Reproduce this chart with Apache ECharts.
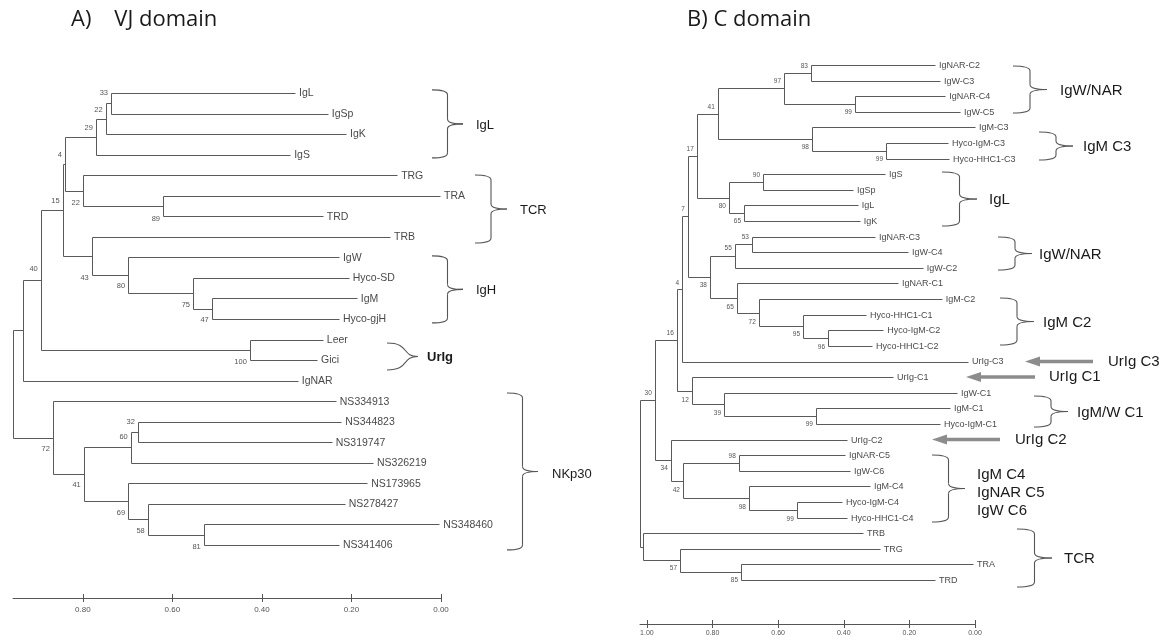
<!DOCTYPE html>
<html>
<head>
<meta charset="utf-8">
<script src="https://cdn.jsdelivr.net/npm/echarts@6/dist/echarts.min.js"></script>
<style>
  html, body { margin: 0; padding: 0; background: #fff; }
  #chart { width: 1168px; height: 641px; }
</style>
</head>
<body>
<div id="chart"></div>
<script>
// ---- A) VJ domain ----
const leavesA = ['IgL', 'IgSp', 'IgK', 'IgS', 'TRG', 'TRA', 'TRD', 'TRB', 'IgW', 'Hyco-SD', 'IgM', 'Hyco-gjH',
  'Leer', 'Gici', 'IgNAR', 'NS334913', 'NS344823', 'NS319747', 'NS326219', 'NS173965', 'NS278427', 'NS348460', 'NS341406']
const tipsA = [0.326, 0.253, 0.212, 0.337, 0.098, 0.002, 0.264, 0.114, 0.228, 0.206, 0.188, 0.228,
  0.264, 0.277, 0.320, 0.235, 0.223, 0.244, 0.152, 0.165, 0.215, 0.004, 0.228]
// [id, distance, bootstrap, children] (children before parents)
const nodesA = [
  ['n33', 0.737, 33, ['IgL', 'IgSp']],
  ['n22a', 0.749, 22, ['n33', 'IgK']],
  ['n29', 0.771, 29, ['n22a', 'IgS']],
  ['n89', 0.621, 89, ['TRA', 'TRD']],
  ['n22b', 0.800, 22, ['TRG', 'n89']],
  ['n4', 0.840, 4, ['n29', 'n22b']],
  ['n47', 0.512, 47, ['IgM', 'Hyco-gjH']],
  ['n75', 0.554, 75, ['Hyco-SD', 'n47']],
  ['n80', 0.699, 80, ['IgW', 'n75']],
  ['n43', 0.780, 43, ['TRB', 'n80']],
  ['n15', 0.845, 15, ['n4', 'n43']],
  ['n100', 0.427, 100, ['Leer', 'Gici']],
  ['n40', 0.894, 40, ['n15', 'n100']],
  ['nU', 0.934, null, ['n40', 'IgNAR']],
  ['n32', 0.677, 32, ['NS344823', 'NS319747']],
  ['n60', 0.693, 60, ['n32', 'NS326219']],
  ['n81', 0.530, 81, ['NS348460', 'NS341406']],
  ['n58', 0.655, 58, ['NS278427', 'n81']],
  ['n69', 0.699, 69, ['NS173965', 'n58']],
  ['n41', 0.798, 41, ['n60', 'n69']],
  ['n72', 0.867, 72, ['NS334913', 'n41']],
  ['root', 0.956, null, ['nU', 'n72']]
]
const ticksA = [0, 0.2, 0.4, 0.6, 0.8]
// [label, from leaf, to leaf]
const groupsA = [['IgL', -0.15, 3.16], ['TCR', 3.99, 7.3], ['IgH', 7.93, 11.19], ['UrIg', 12.17, 13.48], ['NKp30', 14.6, 22.24]]

// ---- B) C domain ----
const leavesB = ['IgNAR-C2', 'IgW-C3', 'IgNAR-C4', 'IgW-C5', 'IgM-C3', 'Hyco-IgM-C3', 'Hyco-HHC1-C3',
  'IgS', 'IgSp', 'IgL', 'IgK', 'IgNAR-C3', 'IgW-C4', 'IgW-C2', 'IgNAR-C1', 'IgM-C2', 'Hyco-HHC1-C1',
  'Hyco-IgM-C2', 'Hyco-HHC1-C2', 'UrIg-C3', 'UrIg-C1', 'IgW-C1', 'IgM-C1', 'Hyco-IgM-C1', 'UrIg-C2',
  'IgNAR-C5', 'IgW-C6', 'IgM-C4', 'Hyco-IgM-C4', 'Hyco-HHC1-C4', 'TRB', 'TRG', 'TRA', 'TRD']
const tipsB = [0.122, 0.107, 0.091, 0.046, 0.000, 0.082, 0.079,
  0.274, 0.372, 0.357, 0.351, 0.305, 0.204, 0.159, 0.235, 0.101, 0.332,
  0.280, 0.314, 0.021, 0.250, 0.055, 0.076, 0.107, 0.390,
  0.396, 0.381, 0.320, 0.405, 0.390, 0.341, 0.290, 0.006, 0.122]
const nodesB = [
  ['n83', 0.500, 83, ['IgNAR-C2', 'IgW-C3']],
  ['n99a', 0.366, 99, ['IgNAR-C4', 'IgW-C5']],
  ['n97', 0.582, 97, ['n83', 'n99a']],
  ['n99b', 0.271, 99, ['Hyco-IgM-C3', 'Hyco-HHC1-C3']],
  ['n98', 0.497, 98, ['IgM-C3', 'n99b']],
  ['n41', 0.784, 41, ['n97', 'n98']],
  ['n90', 0.646, 90, ['IgS', 'IgSp']],
  ['n65', 0.704, 65, ['IgL', 'IgK']],
  ['n80', 0.750, 80, ['n90', 'n65']],
  ['n17', 0.848, 17, ['n41', 'n80']],
  ['n53', 0.680, 53, ['IgNAR-C3', 'IgW-C4']],
  ['n55', 0.732, 55, ['n53', 'IgW-C2']],
  ['n96', 0.448, 96, ['Hyco-IgM-C2', 'Hyco-HHC1-C2']],
  ['n95', 0.524, 95, ['Hyco-HHC1-C1', 'n96']],
  ['n72', 0.659, 72, ['IgM-C2', 'n95']],
  ['n65b', 0.726, 65, ['IgNAR-C1', 'n72']],
  ['n38', 0.808, 38, ['n55', 'n65b']],
  ['n7', 0.875, 7, ['n17', 'n38']],
  ['n4', 0.893, 4, ['n7', 'UrIg-C3']],
  ['n99c', 0.485, 99, ['IgM-C1', 'Hyco-IgM-C1']],
  ['n39', 0.765, 39, ['IgW-C1', 'n99c']],
  ['n12', 0.863, 12, ['UrIg-C1', 'n39']],
  ['n16', 0.909, 16, ['n4', 'n12']],
  ['n98c', 0.720, 98, ['IgNAR-C5', 'IgW-C6']],
  ['n99e', 0.543, 99, ['Hyco-IgM-C4', 'Hyco-HHC1-C4']],
  ['n98d', 0.689, 98, ['IgM-C4', 'n99e']],
  ['n42', 0.890, 42, ['n98c', 'n98d']],
  ['n34', 0.927, 34, ['UrIg-C2', 'n42']],
  ['n30', 0.976, 30, ['n16', 'n34']],
  ['n85', 0.713, 85, ['TRA', 'TRD']],
  ['n57', 0.899, 57, ['TRG', 'n85']],
  ['nT', 1.012, null, ['TRB', 'n57']],
  ['root', 1.021, null, ['n30', 'nT']]
]
const ticksB = [0, 0.2, 0.4, 0.6, 0.8, 1.0]
const groupsB = [['IgW/NAR', 0.06, 3.08], ['IgM C3', 4.29, 6.09], ['IgL', 6.86, 10.32], ['IgW/NAR', 11.02, 13.14],
  ['IgM C2', 14.93, 17.94], ['IgM/W C1', 21.21, 23.2], ['IgM C4\nIgNAR C5\nIgW C6', 24.99, 29.28], ['TCR', 29.73, 33.45]]
// [label, leaf index]
const arrowsB = [['UrIg C3', 19], ['UrIg C1', 20], ['UrIg C2', 24]]

// ---- styling (pixel offsets from the 0.00 position) ----
const bootDyA = [-10, -9, -9, 13, 12, -9, 11, 12, 11, 22, -9, 12, -11, 0, -10, -10, 12, 12, 12, 11, 11, 0]
const bootDyB = [-7, 8, -7, 8, 8, -7, -7, 8, 9, -7, -7, -8, 9, 8, 9, 9, 8, -7, -6, 8, 9, 9, -7, -7, 9, 9, 10, 8, -7, 8, 8, 0, 0]
// [brace left, brace tip, label x, label dy, curly]
const braceStyleA = [[-9, 22, 35, 2], [34, 66, 79, 1], [-9, 22, 35, 1], [-54, -23, -14, 1, true], [66, 97, 111, 3]]
const braceStyleB = [[38, 72, 85, 1], [64, 98, 108, 1], [-33, 2, 14, 1], [23, 57, 64, 1], [25, 59, 68, 1],
  [59, 93, 102, 1], [-43, -10, 2, 4], [42, 77, 89, 1]]
// [tip, tail, label x]
const arrowStyleB = [[50, 118, 133], [-9, 60, 74], [-43, 25, 40]]

const LINE = '#5a5a5a'
const TXT = '#4a4a4a'
const FONT = 'Liberation Sans, Arial, sans-serif'

function layoutTree(leaves, tips, nodes) {
  const pos = {}
  leaves.forEach((n, i) => { pos[n] = { x: tips[i], y: i } })
  const segs = []
  const boots = []
  nodes.forEach(([id, d, b, kids], k) => {
    const ys = kids.map(c => pos[c].y)
    const y = (ys[0] + ys[ys.length - 1]) / 2
    pos[id] = { x: d, y }
    segs.push([d, ys[0], d, ys[ys.length - 1]])
    kids.forEach(c => segs.push([d, pos[c].y, pos[c].x, pos[c].y]))
    if (b != null) boots.push([d, y, b, k])
  })
  return { segs, boots }
}

const treeA = layoutTree(leavesA, tipsA, nodesA)
const treeB = layoutTree(leavesB, tipsB, nodesB)

const crisp = v => Math.round(v) + 0.5

function branchSeries(idx, segs) {
  return {
    type: 'custom', xAxisIndex: idx * 2, yAxisIndex: idx, clip: false,
    encode: { x: [0, 2], y: [1, 3] },
    data: segs,
    renderItem(params, api) {
      const p1 = api.coord([api.value(0), api.value(1)])
      const p2 = api.coord([api.value(2), api.value(3)])
      return {
        type: 'line',
        shape: { x1: crisp(p1[0]), y1: crisp(p1[1]), x2: crisp(p2[0]), y2: crisp(p2[1]) },
        style: { stroke: LINE, lineWidth: 1 }
      }
    }
  }
}

function leafSeries(idx, leaves, tips, size) {
  return {
    type: 'custom', xAxisIndex: idx * 2, yAxisIndex: idx, clip: false,
    data: tips.map((t, i) => [t, i]),
    renderItem(params, api) {
      const p = api.coord([api.value(0), api.value(1)])
      return {
        type: 'text', x: p[0] + 4, y: p[1] + 0.5,
        style: { text: leaves[params.dataIndex], fill: TXT, font: size + 'px ' + FONT, align: 'left', verticalAlign: 'middle' }
      }
    }
  }
}

function bootSeries(idx, boots, dys, size) {
  return {
    type: 'custom', xAxisIndex: idx * 2, yAxisIndex: idx, clip: false,
    data: boots,
    renderItem(params, api) {
      const p = api.coord([api.value(0), api.value(1)])
      const k = api.value(3)
      return {
        type: 'text', x: p[0] - 3, y: p[1] + dys[k],
        style: { text: String(api.value(2)), fill: '#555', font: size + 'px ' + FONT, align: 'right', verticalAlign: 'middle' }
      }
    }
  }
}

function braceShapes(x0, x1, yT, yB, curly) {
  const ym = (yT + yB) / 2
  const st = { stroke: '#555', lineWidth: 1.1, fill: 'none' }
  if (curly) {
    const w = x1 - x0
    return [
      { type: 'bezierCurve', shape: { x1: x0, y1: yT, x2: x1, y2: ym, cpx1: x0 + w * 0.75, cpy1: yT, cpx2: x0 + w * 0.45, cpy2: ym }, style: st },
      { type: 'bezierCurve', shape: { x1: x0, y1: yB, x2: x1, y2: ym, cpx1: x0 + w * 0.75, cpy1: yB, cpx2: x0 + w * 0.45, cpy2: ym }, style: st }
    ]
  }
  const xs = (x0 + x1) / 2
  const r = 5
  return [
    { type: 'bezierCurve', shape: { x1: x0, y1: yT, x2: xs, y2: yT + r, cpx1: xs, cpy1: yT }, style: st },
    { type: 'line', shape: { x1: xs, y1: yT + r, x2: xs, y2: ym - r }, style: st },
    { type: 'bezierCurve', shape: { x1: xs, y1: ym - r, x2: x1, y2: ym, cpx1: xs, cpy1: ym }, style: st },
    { type: 'bezierCurve', shape: { x1: x1, y1: ym, x2: xs, y2: ym + r, cpx1: xs, cpy1: ym }, style: st },
    { type: 'line', shape: { x1: xs, y1: ym + r, x2: xs, y2: yB - r }, style: st },
    { type: 'bezierCurve', shape: { x1: xs, y1: yB - r, x2: x0, y2: yB, cpx1: xs, cpy1: yB }, style: st }
  ]
}

function groupSeries(idx, groups, styles, size) {
  return {
    type: 'custom', xAxisIndex: idx * 2, yAxisIndex: idx, clip: false,
    data: groups.map(g => [0, g[1], g[2]]),
    renderItem(params, api) {
      const g = groups[params.dataIndex]
      const s = styles[params.dataIndex]
      const top = api.coord([0, api.value(1)])
      const bot = api.coord([0, api.value(2)])
      const x = top[0]
      const ym = (top[1] + bot[1]) / 2
      const children = braceShapes(x + s[0], x + s[1], top[1], bot[1], s[4])
      children.push({
        type: 'text', x: x + s[2], y: ym + s[3],
        style: {
          text: g[0], fill: '#1a1a1a', font: (s[4] ? 'bold ' : '') + size + 'px ' + FONT,
          align: 'left', verticalAlign: 'middle', lineHeight: 18
        }
      })
      return { type: 'group', children }
    }
  }
}

function arrowSeries(idx, arrows, styles) {
  return {
    type: 'custom', xAxisIndex: idx * 2, yAxisIndex: idx, clip: false,
    data: arrows.map(a => [0, a[1]]),
    renderItem(params, api) {
      const s = styles[params.dataIndex]
      const p = api.coord([0, api.value(1)])
      const x = p[0]
      const y = p[1]
      const col = '#8c8c8c'
      return {
        type: 'group',
        children: [
          { type: 'line', shape: { x1: x + s[0] + 12, y1: y, x2: x + s[1], y2: y }, style: { stroke: col, lineWidth: 3.5 } },
          { type: 'polygon', shape: { points: [[x + s[0], y], [x + s[0] + 15, y - 5], [x + s[0] + 15, y + 5]] }, style: { fill: col } },
          {
            type: 'text', x: x + s[2], y: y,
            style: { text: arrows[params.dataIndex][0], fill: '#1a1a1a', font: '15px ' + FONT, align: 'left', verticalAlign: 'middle' }
          }
        ]
      }
    }
  }
}

function scaleAxes(gridIndex, max, ticks, fontSize, margin) {
  const base = { type: 'value', gridIndex, min: 0, max, inverse: true, position: 'bottom' }
  return [
    Object.assign({}, base, {
      axisLine: { show: true, onZero: false, lineStyle: { color: '#555', width: 1 } },
      axisTick: { show: true, length: 4, customValues: ticks, lineStyle: { color: '#555' } },
      axisLabel: { show: true, customValues: ticks, margin, color: '#555', fontSize, fontFamily: FONT, formatter: v => v.toFixed(2) },
      splitLine: { show: false }
    }),
    Object.assign({}, base, {
      axisLine: { show: false, onZero: false },
      axisTick: { show: true, inside: true, length: 4, customValues: ticks, lineStyle: { color: '#555' } },
      axisLabel: { show: false },
      splitLine: { show: false }
    })
  ]
}

const chart = echarts.init(document.getElementById('chart'), null, { renderer: 'canvas' })
chart.setOption({
  backgroundColor: '#fff',
  animation: false,
  title: [
    { text: 'A)    VJ domain', left: 71, top: 9, padding: 0, textStyle: { fontFamily: 'Open Sans', fontSize: 22, fontWeight: 'normal', color: '#1a1a1a' } },
    { text: 'B) C domain', left: 687, top: 9, padding: 0, textStyle: { fontFamily: 'Open Sans', fontSize: 22, fontWeight: 'normal', color: '#1a1a1a' } }
  ],
  grid: [
    { left: 13, right: 727, top: 82.7, bottom: 43 },
    { left: 640, right: 193, top: 57.2, bottom: 17 }
  ],
  xAxis: [
    ...scaleAxes(0, 0.956, ticksA, 8, 8),
    ...scaleAxes(1, 1.021, ticksB, 7, 6)
  ],
  yAxis: [
    { type: 'value', gridIndex: 0, min: -0.5, max: 24.58, inverse: true, show: false },
    { type: 'value', gridIndex: 1, min: -0.5, max: 35.82, inverse: true, show: false }
  ],
  series: [
    branchSeries(0, treeA.segs),
    leafSeries(0, leavesA, tipsA, 10.5),
    bootSeries(0, treeA.boots, bootDyA, 7.5),
    groupSeries(0, groupsA, braceStyleA, 13),
    branchSeries(1, treeB.segs),
    leafSeries(1, leavesB, tipsB, 9),
    bootSeries(1, treeB.boots, bootDyB, 6.5),
    groupSeries(1, groupsB, braceStyleB, 15),
    arrowSeries(1, arrowsB, arrowStyleB)
  ]
})
</script>
</body>
</html>
